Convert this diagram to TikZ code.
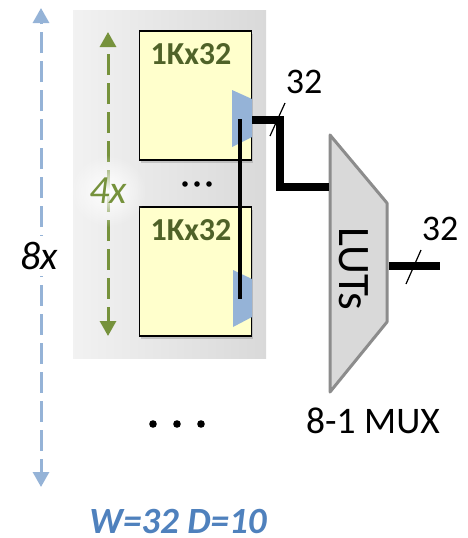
\documentclass[tikz,border=0pt]{standalone}
\usepackage{fontspec}
\setmainfont{Carlito}
\usepackage{xcolor}
\usetikzlibrary{positioning,arrows.meta,shadows,fadings}

\definecolor{lutgray}{HTML}{D9D9D9}
\definecolor{lutedge}{HTML}{8C8C8C}
\definecolor{memyellow}{HTML}{FFFFCC}
\definecolor{memgreen}{HTML}{4F6228}
\definecolor{olivearrow}{HTML}{76923C}
\definecolor{palearrow}{HTML}{95B3D7}
\definecolor{titleblue}{HTML}{4F81BD}

\tikzfading[name=glowfade, inner color=transparent!0, outer color=transparent!100]

\tikzset{
    membox/.style={draw=black, line width=1.4pt, fill=memyellow, minimum width=112pt, minimum height=129pt, inner sep=0pt,
        drop shadow={shadow xshift=1.5pt, shadow yshift=-2.5pt, opacity=0.35}},
    memlabel/.style={font=\fontsize{32}{32}\selectfont\bfseries, text=memgreen, inner sep=0pt},
    clkmark/.style={fill=palearrow, draw=none},
    bus/.style={line width=8pt, line join=miter},
    wire/.style={line width=4pt, line cap=butt},
    buslabel/.style={font=\fontsize{36}{36}\selectfont, inner sep=0pt},
    slash/.style={line width=1.2pt},
    spanarrow/.style={line width=3pt, dash pattern=on 21pt off 8pt, -{Triangle[length=15pt, width=16pt]}}
}

\begin{document}
\begin{tikzpicture}[x=1pt, y=-1pt]
\useasboundingbox (0,0) rectangle (468,538);

% Shaded bank behind the memories
\shade[left color=lutgray!35, right color=lutgray] (73,10) rectangle (266,358);

% Memories
\node[membox] (mem1) at (195.5,95.5) {};
\node[membox] (mem2) at (195.5,271.5) {};
\node[memlabel] (mem1lab) at (191,54) {1Kx32};
\node[memlabel] (mem2lab) at (191,230) {1Kx32};

% Clock marks
\fill[clkmark] (232,90) -- (252,99) -- (252,137) -- (232,147) -- cycle;
\fill[clkmark] (233,270) -- (252,279) -- (252,317) -- (233,327) -- cycle;
\coordinate (clk1) at (240,119);
\coordinate (clk2) at (240,299);
\draw[wire] (clk1) -- (clk2);

% Dots
\foreach \x/\r in {185/2.8, 197/2.8, 209/2.8, 153/3.8, 177/3.8, 201/3.8} {
    \pgfmathsetmacro{\ydot}{\r<3 ? 184 : 424}
    \fill (\x,\ydot) circle (\r);
}

% Mux
\draw[line width=3pt, draw=lutedge, fill=lutgray, line join=round]
    (330,135) -- (387,203) -- (387,322) -- (330,392) -- cycle;
\node[rotate=-90, font=\fontsize{45}{45}\selectfont, inner sep=0pt] (lut) at (354,269) {LUTs};
\node[font=\fontsize{37.5}{37.5}\selectfont, inner sep=0pt] (muxlab) at (373,421) {8-1 MUX};
\coordinate (muxin) at (329,187);
\coordinate (muxout) at (389,266);
\coordinate (busend) at (440,266);
\coordinate (memout) at (252,120);

% Buses
\draw[bus] (memout) -- (280,120) -- (280,187) -- (muxin);
\draw[bus] (muxout) -- (busend);

% Width marks
\coordinate (s1a) at (270,136);
\coordinate (s1b) at (285,103);
\coordinate (s2a) at (406,284);
\coordinate (s2b) at (421,250);
\draw[slash] (s1a) -- (s1b);
\draw[slash] (s2a) -- (s2b);
\node[buslabel] (w1) at (304,82) {32};
\node[buslabel] (w2) at (440,229) {32};

% Span arrows
\coordinate (g1) at (108,191);
\coordinate (gtop) at (108,32);
\coordinate (gbot) at (108,336);
\draw[spanarrow, draw=olivearrow, olivearrow] (g1) -- (gtop);
\draw[spanarrow, draw=olivearrow, olivearrow] (g1) -- (gbot);
\fill[white, path fading=glowfade] (108,191) ellipse (38 and 36);
\node[font=\fontsize{40}{40}\selectfont\itshape, text=olivearrow, inner sep=0pt] (fourx) at (108,191) {4x};

\coordinate (b1) at (41,256);
\coordinate (btop) at (41,8);
\coordinate (bbot) at (41,487);
\draw[spanarrow, draw=palearrow, palearrow] (b1) -- (btop);
\draw[spanarrow, draw=palearrow, palearrow] (b1) -- (bbot);
\fill[white] (16,236) rectangle (66,276);
\node[font=\fontsize{40}{40}\selectfont\itshape, inner sep=0pt] (eightx) at (39,256) {8x};

% Widths and depth
\node[font=\fontsize{37}{37}\selectfont\bfseries\itshape, text=titleblue, inner sep=0pt] (params) at (178,521) {W=32 D=10};

\end{tikzpicture}
\end{document}
